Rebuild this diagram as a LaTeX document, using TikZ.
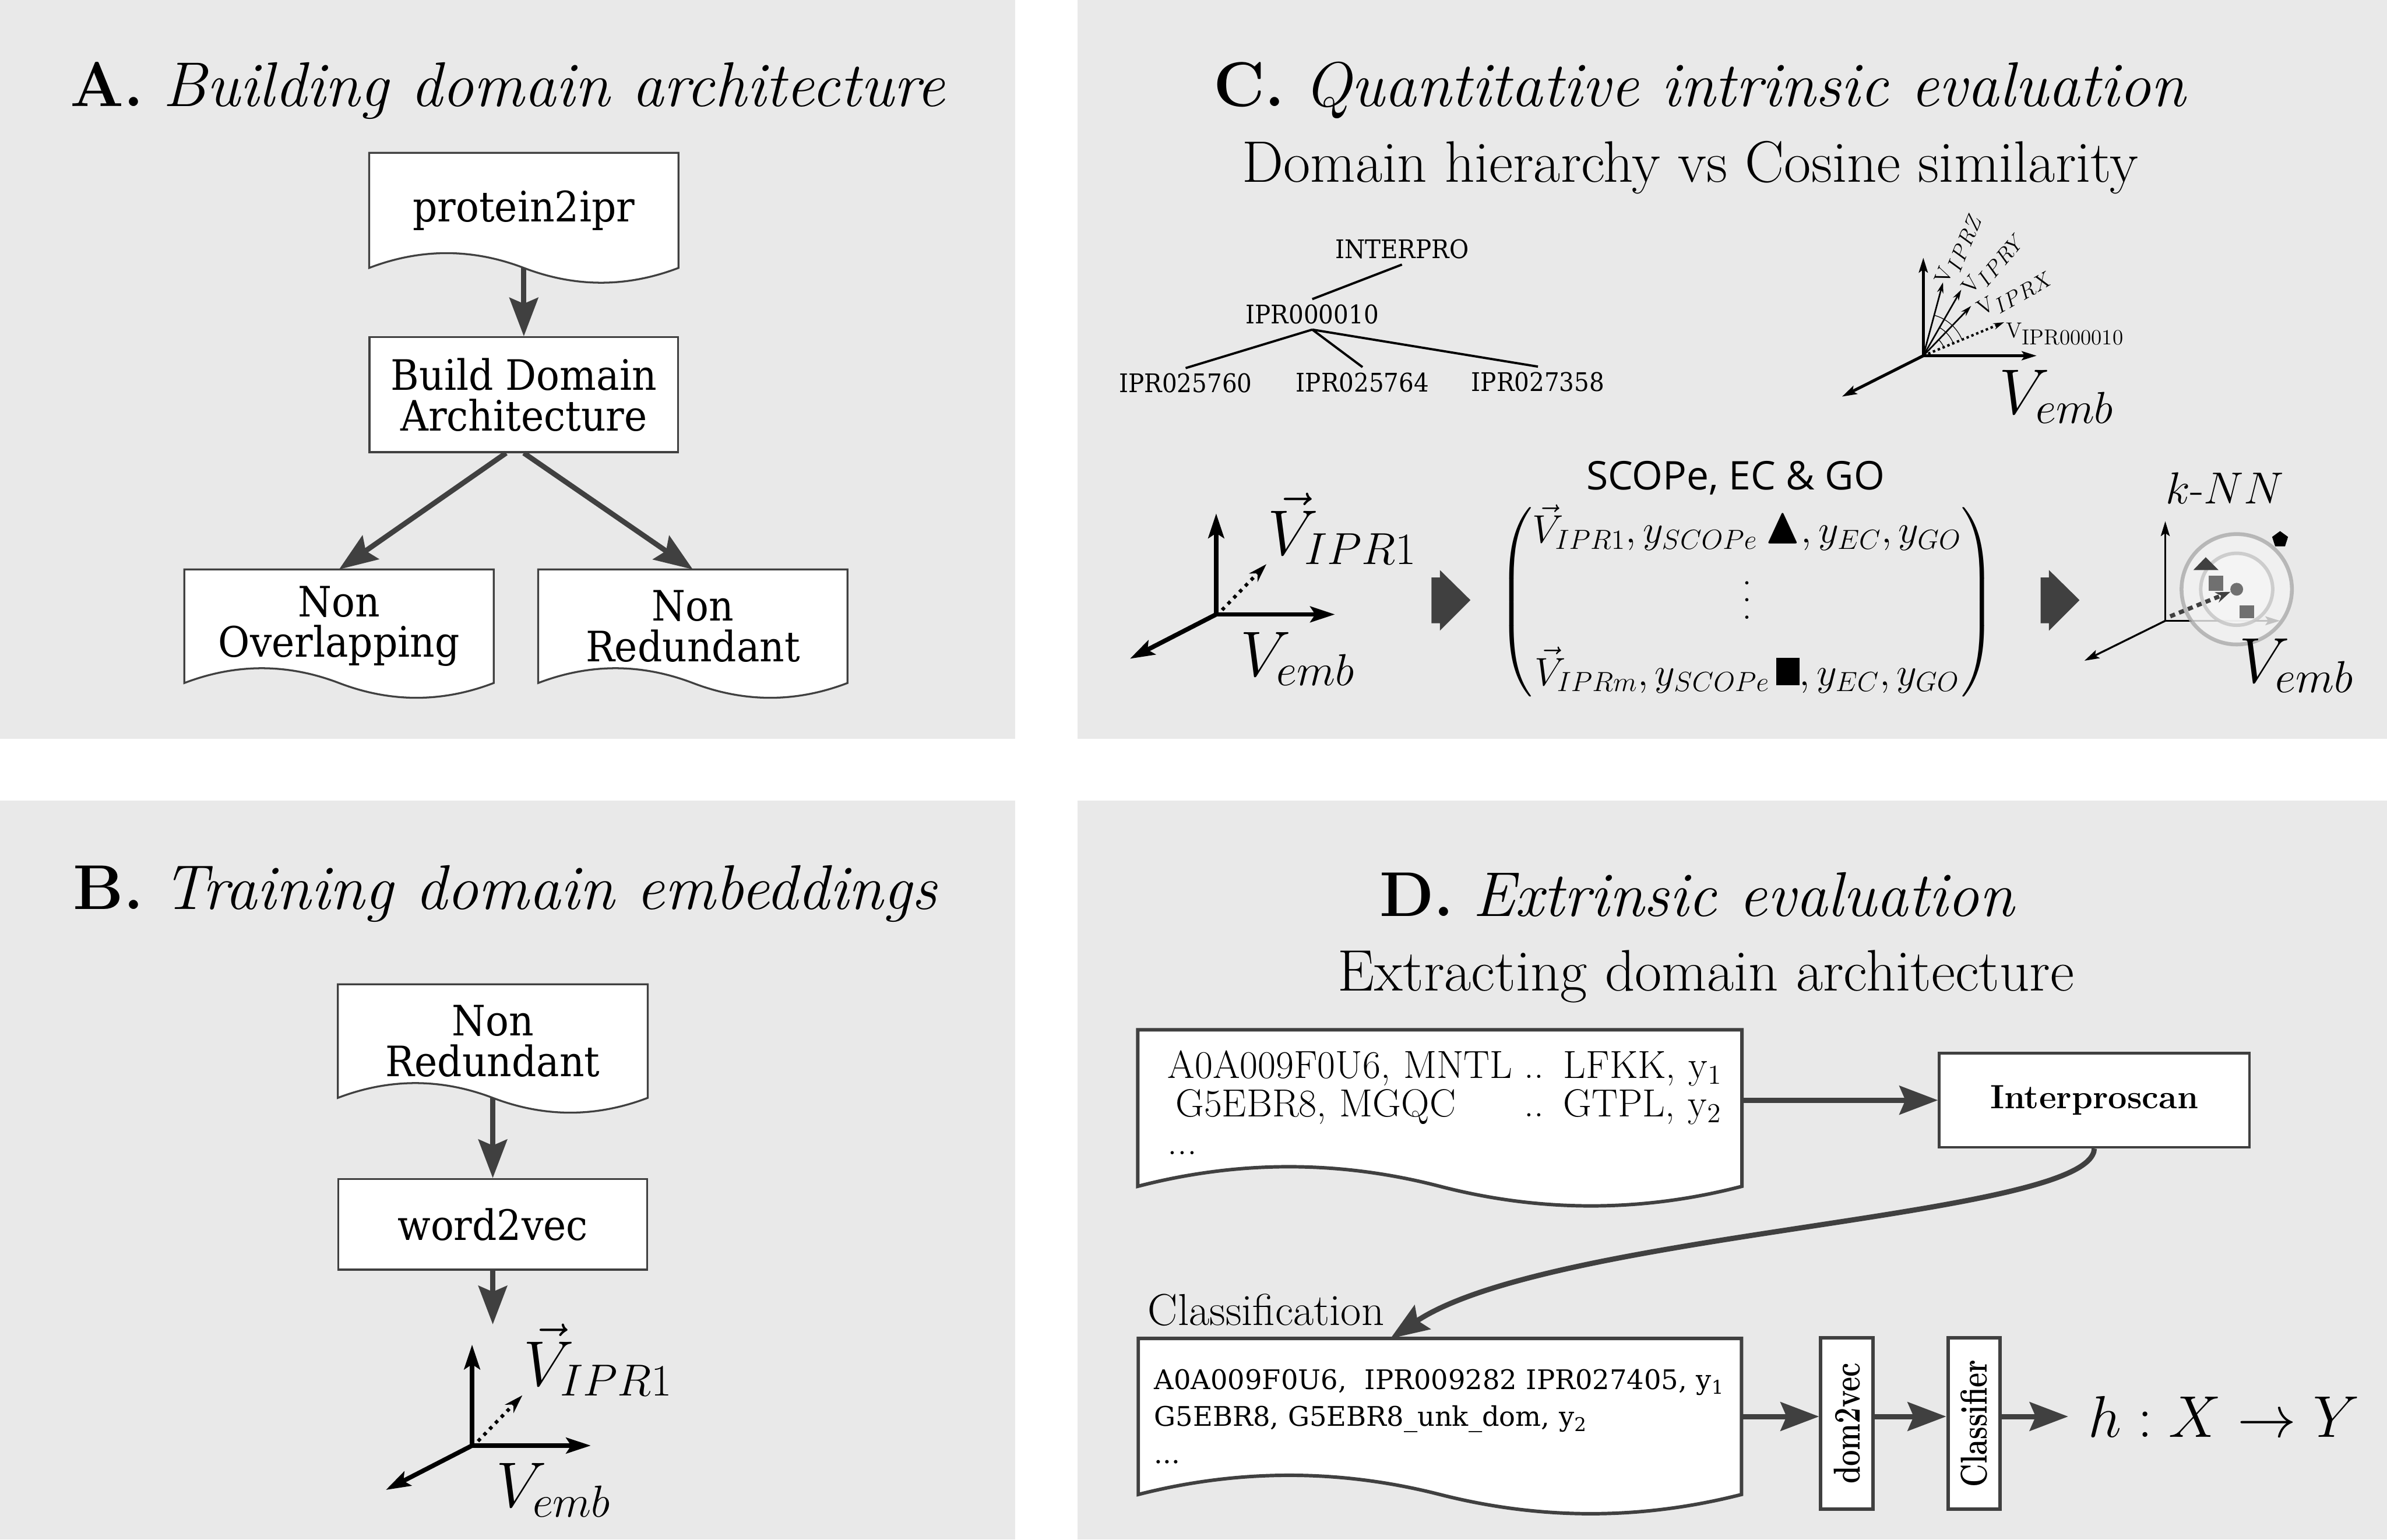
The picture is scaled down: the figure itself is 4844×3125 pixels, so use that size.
\RequirePackage{fix-cm}
\documentclass[tikz,border=0pt]{standalone}
\usepackage{amsmath,amssymb}
\usepackage{fontspec}
\usepackage{graphicx}
\usetikzlibrary{arrows.meta,calc,positioning,shapes.geometric}
\newfontfamily\boxfont[FakeStretch=0.92]{DejaVu Serif}
\newfontfamily\seqfont{DejaVu Serif}
\newfontfamily\labelfont{Open Sans}
\definecolor{PanelGray}{RGB}{233,233,233}
\definecolor{LineGray}{RGB}{64,64,64}
\definecolor{OuterRing}{RGB}{170,170,170}
\definecolor{InnerRing}{RGB}{196,196,196}
\definecolor{OuterFill}{RGB}{242,242,242}
\definecolor{InnerFill}{RGB}{246,246,246}
\definecolor{DotGray}{RGB}{112,112,112}
\pgfdeclarelayer{back}
\pgfdeclarelayer{mid}
\pgfsetlayers{back,mid,main}

% outline of a document shape round a node: straight top, wavy bottom
\newcommand{\docshape}[3]{%
  \draw[#3] (#1.south west) -- (#1.north west) -- (#1.north east) -- (#1.south east)
    .. controls ($(#1.south east)!1/3!(#1.south)+(0,#2)$) and ($(#1.south)!1/3!(#1.south east)+(0,#2)$) .. (#1.south)
    .. controls ($(#1.south)!1/3!(#1.south west)+(0,-#2)$) and ($(#1.south west)!1/3!(#1.south)+(0,-#2)$) .. (#1.south west) -- cycle;}
% vertical dots that grow with the font
\newcommand{\rowdots}{\vbox{\baselineskip=10pt\lineskiplimit=0pt\kern2pt\hbox{.}\hbox{.}\hbox{.}}}

\tikzset{
  paneltitle/.style={anchor=base west,inner sep=0pt,font=\fontsize{36.5}{37}\selectfont},
  subtitle/.style={anchor=base,inner sep=0pt,font=\fontsize{33.8}{34}\selectfont},
  docnode/.style={inner sep=0pt,align=center,font=\boxfont\fontsize{24.2}{23.5}\selectfont},
  boxnode/.style={docnode,draw=LineGray,line width=1.1pt,fill=white},
  docline/.style={draw=LineGray,line width=1.1pt,fill=white},
  heavyline/.style={draw=LineGray,line width=2pt,fill=white},
  flowarrow/.style={draw=LineGray,line width=3pt,-{Stealth[length=0.78cm,width=0.58cm,inset=0.12cm]}},
  treelabel/.style={anchor=base,inner sep=3pt,font=\boxfont\fontsize{14.8}{15}\selectfont},
  treeline/.style={line width=1.3pt},
  biglabel/.style={anchor=base west,inner sep=0pt,font=\fontsize{37}{38}\selectfont},
  veclabel/.style={anchor=base west,inner sep=0pt,font=\fontsize{12.5}{13}\selectfont},
  embaxis/.style={line width=2.6pt,line cap=round,-{Stealth[length=0.5cm,width=0.32cm,inset=0.1cm]}},
  thinaxis/.style={line width=1.7pt,line cap=round,-{Stealth[length=0.3cm,width=0.18cm,inset=0.06cm]}},
  knnaxis/.style={line width=1.1pt,line cap=round,-{Stealth[length=0.3cm,width=0.18cm,inset=0.06cm]}},
  vecline/.style={line width=0.9pt,-{Stealth[length=0.22cm,width=0.13cm]}},
  dotvec/.style={line width=2pt,dash pattern=on 2pt off 2.8pt,-{Stealth[length=0.38cm,width=0.24cm]}},
  knndash/.style={draw=LineGray,line width=2.4pt,dash pattern=on 3pt off 2.5pt,-{Stealth[length=0.3cm,width=0.22cm]}},
  stagebox/.style={draw=LineGray,line width=2pt,fill=white,inner sep=0pt,rotate=90,
    minimum width=3.47cm,minimum height=1.06cm,font=\bfseries\fontsize{21.6}{22}\selectfont},
  embaxes/.pic={
    \draw[embaxis] (0,0) -- (0,-205);
    \draw[embaxis] (0,0) -- (241,0);
    \draw[embaxis] (0,0) -- (-175,90);
    \draw[dotvec] (12,-9) -- (102,-102);
    \node[biglabel] (-vec) at (104,-121) {$\vec{V}_{IPR1}$};
    \node[biglabel] (-emb) at (48,125) {$V_{emb}$};
  }
}

\begin{document}
\begin{tikzpicture}[x=0.01cm,y=-0.01cm,>=Stealth]
  \useasboundingbox (0,0) rectangle (4844,3125);
  \begin{pgfonlayer}{back}
    \fill[white] (0,0) rectangle (4844,3125);
    \fill[PanelGray] (0,0) rectangle (2060,1500);
    \fill[PanelGray] (2187,0) rectangle (4844,1500);
    \fill[PanelGray] (0,1625) rectangle (2060,3125);
    \fill[PanelGray] (2187,1625) rectangle (4844,3125);
  \end{pgfonlayer}

  % A: building domain architecture
  \node[paneltitle] (titleA) at (142,216) {\textbf{A.} \textit{Building domain architecture}};
  \node[docnode,minimum width=6.26cm,minimum height=2.32cm] (p2i) at (1063,427) {protein2ipr};
  \node[boxnode,minimum width=6.26cm,minimum height=2.33cm] (build) at (1063,801) {Build Domain\\Architecture};
  \node[docnode,minimum width=6.26cm,minimum height=2.29cm] (nonov) at (688,1271) {Non\\Overlapping};
  \node[docnode,minimum width=6.26cm,minimum height=2.29cm] (nonred) at (1406,1271) {Non\\Redundant};
  \begin{pgfonlayer}{mid}
    \docshape{p2i}{40}{docline}
    \docshape{nonov}{40}{docline}
    \docshape{nonred}{40}{docline}
  \end{pgfonlayer}
  \draw[flowarrow] (p2i.south) -- (build.north);
  \draw[flowarrow] ($(build.south)+(-36,0)$) -- (nonov.north);
  \draw[flowarrow] (build.south) -- (nonred.north);

  % B: training domain embeddings
  \node[paneltitle] (titleB) at (148,1845) {\textbf{B.} \textit{Training domain embeddings}};
  \node[docnode,minimum width=6.27cm,minimum height=2.29cm] (nonredB) at (1000,2113) {Non\\Redundant};
  \node[boxnode,minimum width=6.27cm,minimum height=1.84cm] (w2v) at (1000,2485) {word2vec};
  \begin{pgfonlayer}{mid}
    \docshape{nonredB}{40}{docline}
  \end{pgfonlayer}
  \coordinate (embtop) at (1000,2688);
  \draw[flowarrow] (nonredB.south) -- (w2v.north);
  \draw[flowarrow] (w2v.south) -- (embtop);
  \pic (plotB) at (958,2934) {embaxes};

  % C: quantitative intrinsic evaluation
  \node[paneltitle] (titleC) at (2462,216) {\textbf{C.} \textit{Quantitative intrinsic evaluation}};
  \node[subtitle] (subC) at (3430,370) {Domain hierarchy vs Cosine similarity};
  \node[treelabel] (interpro) at (2845,525) {INTERPRO};
  \node[treelabel] (ipr10) at (2663,657) {IPR000010};
  \node[treelabel] (ipr60) at (2406,797) {IPR025760};
  \node[treelabel] (ipr64) at (2765,795) {IPR025764};
  \node[treelabel] (ipr58) at (3121,794) {IPR027358};
  \draw[treeline] (interpro.south) -- (ipr10.north);
  \foreach \leaf in {ipr60,ipr64,ipr58}
    \draw[treeline] (ipr10.south) -- (\leaf.north);

  \coordinate (o1) at (3903,722);
  \draw[thinaxis] (o1) -- ++(0,-199);
  \draw[thinaxis] (o1) -- ++(230,0);
  \draw[thinaxis] (o1) -- ++(-165,83);
  \draw[vecline] (o1) -- (3943,573);
  \draw[vecline] (o1) -- (3980,588);
  \draw[vecline] (o1) -- (4000,621);
  \draw[vecline,line width=1.4pt,dash pattern=on 1.4pt off 1.6pt] (o1) -- (4067,654);
  \draw[line width=0.4pt] ($(o1)+(-22.5:85)$) arc[start angle=-22.5,end angle=-75,radius=85];
  \draw[line width=0.4pt] ($(o1)+(-22.5:66)$) arc[start angle=-22.5,end angle=-60,radius=66];
  \draw[line width=0.4pt] ($(o1)+(-22.5:45)$) arc[start angle=-22.5,end angle=-46,radius=45];
  \node[veclabel,rotate=68] (vz) at (3952,580) {$\mathrm{V}_{\textstyle IPRZ}$};
  \node[veclabel,rotate=50] (vy) at (4000,600) {$\mathrm{V}_{\textstyle IPRY}$};
  \node[veclabel,rotate=30] (vx) at (4022,642) {$\mathrm{V}_{\textstyle IPRX}$};
  \node[veclabel] (v10) at (4070,685) {$\mathrm{V}_{\textstyle\mathrm{IPR000010}}$};
  \node[biglabel] (emb1) at (4056,840) {$V_{emb}$};

  \pic (plotC) at (2468,1247) {embaxes};
  \foreach \bx in {2905,4141}
    \fill[LineGray] (\bx,1172) -- ++(17,0) -- ++(0,-15) -- ++(62,61) -- ++(-62,62) -- ++(0,-15) -- ++(-17,0) -- cycle;
  \node[anchor=base,inner sep=0pt,font=\labelfont\fontsize{22.8}{23}\selectfont] (scope) at (3522,994) {SCOPe, EC \& GO};
  \node[inner sep=0pt,font=\fontsize{22.8}{27}\selectfont] (labels) at (3545,1222)
    {$\begin{pmatrix}
      \vec{V}_{IPR1}, y_{SCOPe}\,\scalebox{1.3}{$\blacktriangle$}, y_{EC}, y_{GO}\\[12pt]
      \rowdots\\[8pt]
      \vec{V}_{IPRm}, y_{SCOPe}\,\rule{0.47cm}{0.55cm}, y_{EC}, y_{GO}
    \end{pmatrix}$};

  \coordinate (o3) at (4394,1260);
  \draw[knnaxis] (o3) -- ++(0,-202);
  \draw[knnaxis] (o3) -- ++(233,0);
  \draw[knnaxis] (o3) -- ++(-164,81);
  \draw[draw=OuterRing,fill=OuterFill,line width=2.2pt,opacity=0.8] (4539,1196) circle[radius=112];
  \draw[draw=InnerRing,fill=InnerFill,line width=2pt,opacity=0.8] (4539,1196) circle[radius=73];
  \fill[black!75] (4451,1157) -- (4502,1157) -- (4476,1131) -- cycle;
  \fill[DotGray] (4482,1169) rectangle (4512,1199);
  \fill[DotGray] (4545,1229) rectangle (4574,1255);
  \node[circle,fill=DotGray,minimum size=0.26cm,inner sep=0pt] (query) at (4539,1196) {};
  \draw[knndash] (4404,1251) -- (query);
  \node[regular polygon,regular polygon sides=5,fill=black,minimum size=0.34cm,inner sep=0pt] (penta) at (4627,1095) {};
  \node[anchor=base,inner sep=0pt,font=\fontsize{25.9}{26}\selectfont] (knn) at (4515,1022) {$k$-$NN$};
  \node[biglabel] (emb3) at (4543,1386) {$V_{emb}$};

  % D: extrinsic evaluation
  \node[paneltitle] (titleD) at (2799,1860) {\textbf{D.} \textit{Extrinsic evaluation}};
  \node[subtitle] (subD) at (3462,2011) {Extracting domain architecture};
  \node[inner sep=0pt,inner xsep=0.6cm,text width=11.04cm,minimum height=3.16cm,align=left,
    font=\fontsize{22.6}{21.6}\selectfont] (seqdoc) at (2922,2249)
    {\begin{tabular}{@{}l@{}l@{}}A0A009F0U6, MNTL\hspace{0.3em} & .. LFKK, y$_1$\\
      \hspace{0.2em}G5EBR8, MGQC & .. GTPL, y$_2$\\ ... & \end{tabular}};
  \node[draw=LineGray,line width=1.5pt,fill=white,minimum width=6.29cm,minimum height=1.91cm,
    inner sep=0pt,font=\bfseries\fontsize{19.4}{20}\selectfont] (interpro) at (4250,2233) {Interproscan};
  \node[anchor=base west,inner sep=0pt,font=\fontsize{25.8}{26}\selectfont] (clslabel) at (2329,2690) {Classification};
  \node[inner sep=0pt,inner xsep=0.32cm,text width=11.58cm,minimum height=3.15cm,align=left,
    font=\seqfont\fontsize{15.6}{21.3}\selectfont] (cls) at (2922,2875)
    {A0A009F0U6,\ \ IPR009282 IPR027405, y\textsubscript{1}\\
     G5EBR8, G5EBR8\_unk\_dom, y\textsubscript{2}\\ ...};
  \begin{pgfonlayer}{mid}
    \docshape{seqdoc}{53}{heavyline}
    \docshape{cls}{52}{heavyline}
  \end{pgfonlayer}
  \node[stagebox] (d2v) at (3748,2889) {\scalebox{0.76}[1]{dom2vec}};
  \node[stagebox] (clf) at (4006,2889) {\scalebox{0.76}[1]{Classifier}};
  \node[anchor=west,inner xsep=0.4cm,inner ysep=0pt,font=\fontsize{34}{34}\selectfont] (hxy) at (4197,2875) {$h: X \to Y$};
  \coordinate (clsin) at ($(cls.north west)!0.418!(cls.north east)$);
  \draw[flowarrow] (seqdoc.east |- interpro.west) -- (interpro.west);
  \draw[flowarrow] (interpro.south) .. controls +(-5,141) and +(328,-218) .. (clsin);
  \draw[flowarrow] (cls.east) -- (cls.east -| d2v.north);
  \draw[flowarrow] (cls.east -| d2v.south) -- (cls.east -| clf.north);
  \draw[flowarrow] (cls.east -| clf.south) -- (hxy.west);
\end{tikzpicture}
\end{document}
